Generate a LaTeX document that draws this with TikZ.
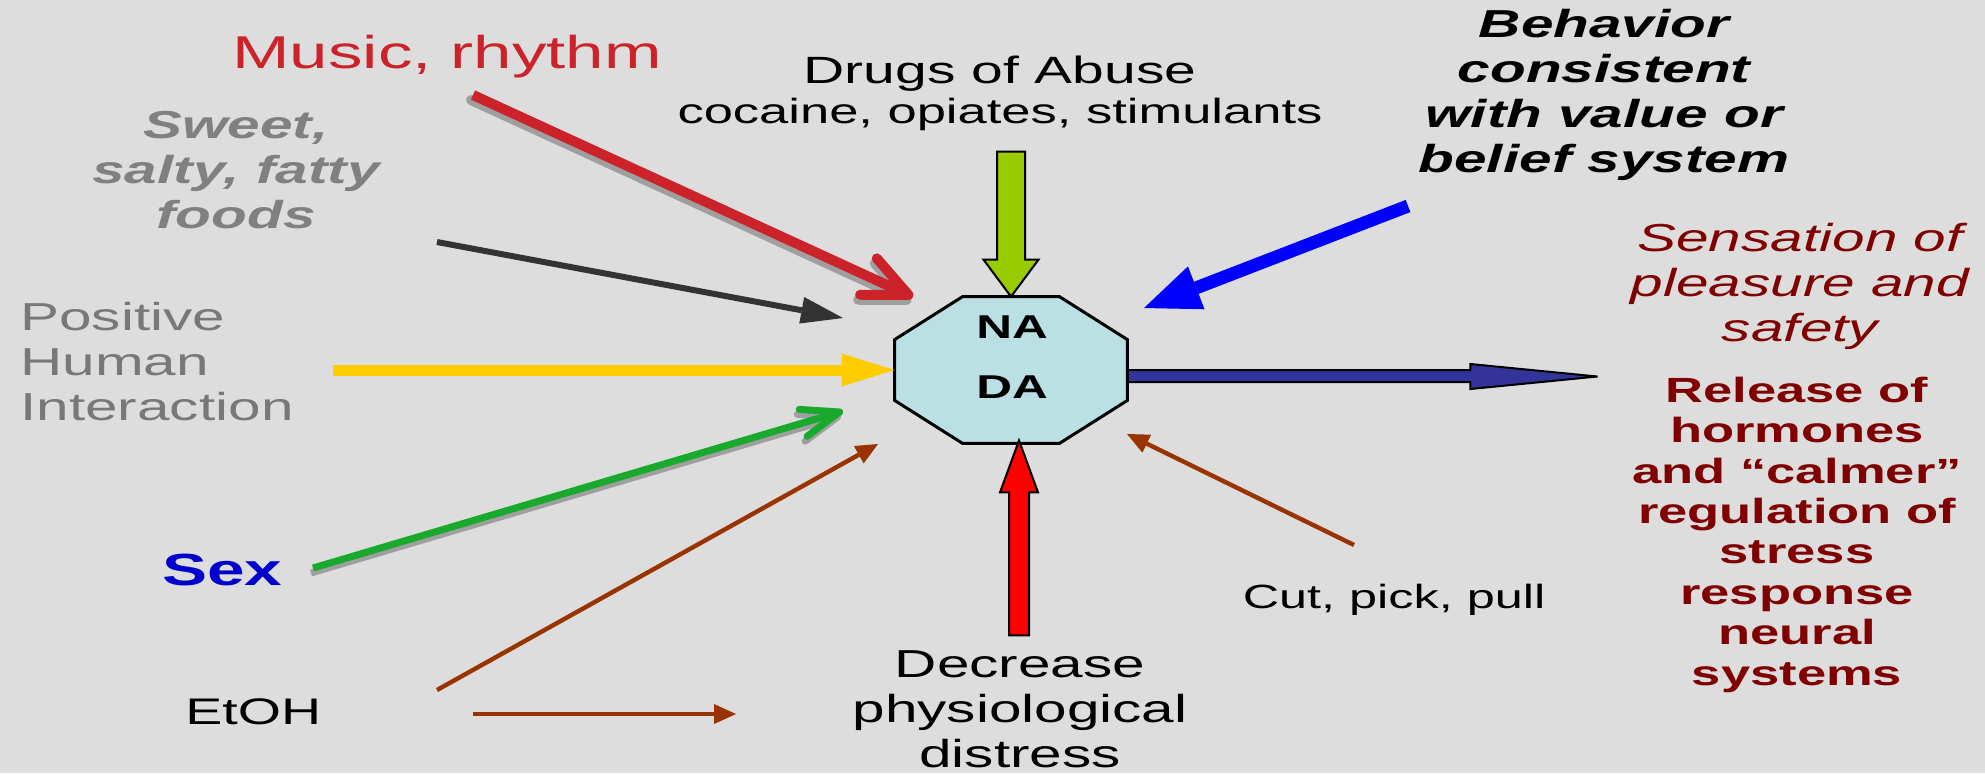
\documentclass[tikz,border=0pt]{standalone}
\usepackage{fontspec}
\setmainfont[FakeStretch=1.5]{Liberation Sans}
\usetikzlibrary{arrows.meta,calc}

\definecolor{bggray}{RGB}{221,221,221}
\definecolor{musicred}{RGB}{204,34,41}
\definecolor{foodgray}{RGB}{128,128,128}
\definecolor{humangray}{RGB}{120,120,120}
\definecolor{sexblue}{RGB}{0,0,204}
\definecolor{darkline}{RGB}{51,51,51}
\definecolor{warmyellow}{RGB}{255,204,0}
\definecolor{sexgreen}{RGB}{25,170,45}
\definecolor{rust}{RGB}{153,51,0}
\definecolor{drugsgreen}{RGB}{153,204,0}
\definecolor{navyout}{RGB}{51,51,153}
\definecolor{outred}{RGB}{128,0,0}
\definecolor{corecyan}{RGB}{187,224,227}

\newcommand\fs[2]{\fontsize{#1}{#2}\selectfont}

\begin{document}
\begin{tikzpicture}[x=0.5pt,y=-0.5pt,
  txt/.style={inner sep=0pt, align=center},
  rustarrow/.style={draw=rust, line width=2.2pt,
    -{Triangle[length=11pt,width=10pt,line width=0pt]}},
  shadowline/.style={draw=bggray!72!black},
  blockline/.style={draw=black, line width=1pt, line join=miter}]

  \newcommand\chx{68};
  \newcommand\chy{43};

  \useasboundingbox (0,0) rectangle (1985,773);
  \fill[bggray] (0,0) rectangle (1985,773);

  %% texts round the centre (multi-line nodes sit on their last baseline)
  \node[txt, anchor=base west, text=musicred, font=\fs{23}{27}]
  (music) at (232,68) {Music, rhythm};
  \node[txt, anchor=base, text=foodgray, font=\bfseries\itshape\fs{19.5}{22.5}]
  (food) at (236,228) {Sweet,\\ salty, fatty\\ foods};
  \node[txt, align=left, anchor=base west, text=humangray, font=\fs{19.5}{22.5}]
  (human) at (20,420) {Positive\\ Human\\ Interaction};
  \node[txt, anchor=base west, text=sexblue, font=\bfseries\fs{22.5}{27}]
  (sex) at (162,585) {Sex};
  \node[txt, anchor=base west, font=\fs{18.5}{22}] (etoh) at (185,724) {EtOH};
  \node[txt, anchor=base, font=\fs{19}{20}]
  (drugs) at (1000,123) {Drugs of Abuse\\ \fs{17.5}{20}cocaine, opiates, stimulants};
  \node[txt, anchor=base, font=\bfseries\itshape\fs{19.5}{22.5}]
  (belief) at (1604,172) {Behavior\\ consistent\\ with value or\\ belief system};
  \node[txt, anchor=base, text=outred, font=\itshape\fs{19.5}{22.3}]
  (pleasure) at (1800,341) {Sensation of\\ pleasure and\\ safety};
  \node[txt, anchor=base, text=outred, font=\bfseries\fs{17.5}{20.2}]
  (hormones) at (1797,685) {Release of\\ hormones\\ and “calmer”\\ regulation of\\
    stress\\ response\\ neural\\ systems};
  \node[txt, anchor=base, font=\fs{16.8}{20}] (cut) at (1394,608) {Cut, pick, pull};
  \node[txt, anchor=base, font=\fs{19.5}{22.3}]
  (distress) at (1020,767) {Decrease\\ physiological\\ distress};

  %% free ends of the connectors
  \coordinate (musictail) at (473,95);
  \coordinate (musictip) at (913,297);
  \coordinate (foodtail) at (437,242);
  \coordinate (foodtip) at (843,318);
  \coordinate (humantail) at (333,370);
  \coordinate (sextail) at (313,568);
  \coordinate (sextip) at (843,411);
  \coordinate (etohtail) at (437,690);
  \coordinate (etohtip) at (878,444);
  \coordinate (etohside) at (473,714);
  \coordinate (distresstip) at (736,714);
  \coordinate (belieftail) at (1408,206);
  \coordinate (belieftip) at (1144,308);
  \coordinate (cuttail) at (1354,545);
  \coordinate (cuttip) at (1127,434);

  %% NA / DA octagon
  \node[inner sep=0pt, minimum width=116pt, minimum height=73pt] (core) at (1011,370) {};

  %% core -> output
  \draw[blockline, fill=navyout] (core.east) -- ++(343,0) -- ++(0,-6) -- ++(127,12.5)
  -- ++(-127,12.5) -- ++(0,-7) -- ++(-343,0) -- cycle;

  \draw[line width=1.5pt, fill=corecyan]
  ($(core.north west)+(\chx,0)$) -- ($(core.north east)+(-\chx,0)$)
  -- ($(core.north east)+(0,\chy)$) -- ($(core.south east)+(0,-\chy)$)
  -- ($(core.south east)+(-\chx,0)$) -- ($(core.south west)+(\chx,0)$)
  -- ($(core.south west)+(0,-\chy)$) -- ($(core.north west)+(0,\chy)$) -- cycle;
  \node[txt, anchor=base, font=\bfseries\fs{16.5}{30}] (nada) at (1012,398) {NA\\ DA};

  %% drugs -> core, distress -> core
  \draw[blockline, fill=drugsgreen] (core.north) -- ++(-27.5,-37) -- ++(13.5,0)
  -- ++(0,-108) -- ++(28,0) -- ++(0,108) -- ++(13.5,0) -- cycle;
  \draw[blockline, fill=red] ($(core.south)+(8,-3)$) -- ++(-19,52) -- ++(9,0)
  -- ++(0,143) -- ++(20,0) -- ++(0,-143) -- ++(9,0) -- cycle;

  %% music -> core (with shadow)
  \draw[shadowline, line width=5pt, line cap=round,
  -{Straight Barb[length=22pt,width=20pt,round]}]
  ([shift={(-2,5)}]musictail) -- ([shift={(-2,5)}]musictip);
  \draw[musicred, line width=5pt,
  -{Straight Barb[length=22pt,width=20pt,round]}] (musictail) -- (musictip);

  %% food -> core
  \draw[darkline, line width=3pt,
  -{Triangle[length=21pt,width=13.5pt,line width=0pt]}] (foodtail) -- (foodtip);

  %% human -> core
  \draw[warmyellow, line width=5.5pt,
  -{Triangle[length=26.5pt,width=16.5pt,line width=0pt]}] (humantail) -- (core.west);

  %% sex -> core (with shadow)
  \draw[shadowline, line width=3.5pt,
  -{Straight Barb[length=19pt,width=14pt,round]}]
  ([shift={(-2,5)}]sextail) -- ([shift={(-2,5)}]sextip);
  \draw[sexgreen, line width=3.5pt,
  -{Straight Barb[length=19pt,width=14pt,round]}] (sextail) -- (sextip);

  %% etoh -> core, etoh -> distress, cut -> core
  \draw[rustarrow] (etohtail) -- (etohtip);
  \draw[rustarrow] (etohside) -- (distresstip);
  \draw[rustarrow] (cuttail) -- (cuttip);

  %% belief -> core
  \draw[blue, line width=6.5pt,
  -{Triangle[length=28pt,width=23pt,line width=0pt]}] (belieftail) -- (belieftip);

\end{tikzpicture}
\end{document}
